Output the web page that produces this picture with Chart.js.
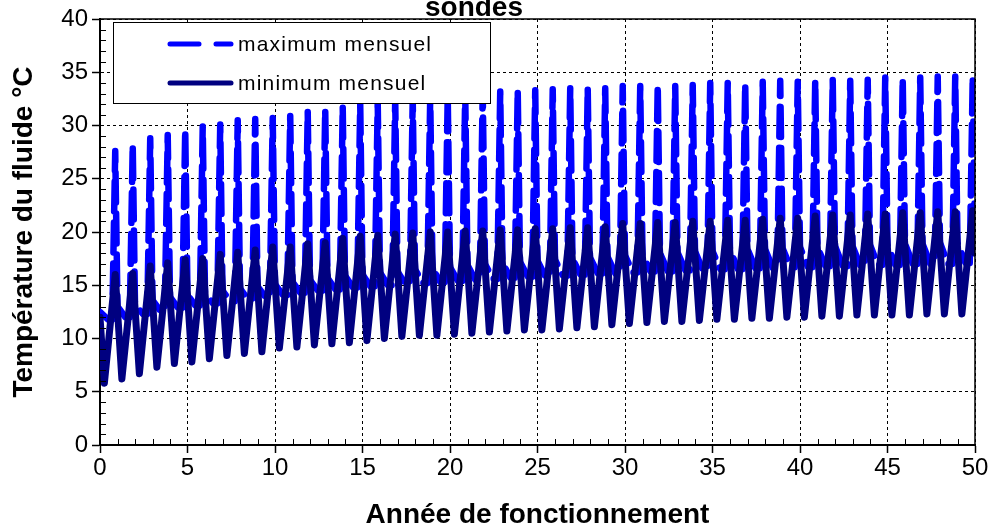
<!DOCTYPE html>
<html>
<head>
<meta charset="utf-8">
<script src="https://cdn.jsdelivr.net/npm/chart.js@4.4.1/dist/chart.umd.min.js"></script>
<style>
  html, body { margin: 0; padding: 0; background: #fff; }
</style>
</head>
<body>
<canvas id="chart" width="999" height="526"></canvas>
<script>
// Fluid temperature in the boreholes, monthly max / min over 50 years of operation

// Readings taken off the plot, one value per year of operation (year k = index k)
const maxPeak = [27.6, 28.2, 28.8, 29.1, 29.6, 29.9, 30.1, 30.5, 30.6, 30.7,
                 30.9, 31.3, 31.5, 31.8, 32.0, 32.2, 32.4, 32.5, 32.7, 32.8,
                 33.0, 33.1, 33.2, 33.3, 33.3, 33.4, 33.5, 33.5, 33.5, 33.7,
                 33.7, 33.8, 33.7, 33.8, 34.0, 34.0, 33.9, 34.1, 34.2, 34.1,
                 34.2, 34.3, 34.2, 34.3, 34.5, 34.4, 34.5, 34.6, 34.6, 34.6];
const maxBase = [11.8, 12.0, 12.3, 12.6, 12.9, 13.1, 13.3, 13.5, 13.7, 13.9,
                 14.1, 14.3, 14.5, 14.6, 14.8, 14.9, 15.0, 15.1, 15.2, 15.3,
                 15.4, 15.5, 15.6, 15.7, 15.8, 15.8, 15.9, 16.0, 16.1, 16.1,
                 16.2, 16.3, 16.3, 16.4, 16.4, 16.5, 16.5, 16.6, 16.6, 16.7,
                 16.7, 16.8, 16.8, 16.8, 16.9, 16.9, 17.0, 17.0, 17.0, 17.1];
const maxAfter = [13.0, 13.2, 13.6, 13.9, 14.1, 14.3, 14.5, 14.7, 14.9, 15.1,
                  15.3, 15.5, 15.7, 15.9, 16.0, 16.2, 16.3, 16.5, 16.6, 16.7,
                  16.9, 17.0, 17.1, 17.2, 17.3, 17.4, 17.5, 17.6, 17.7, 17.8,
                  17.9, 18.0, 18.1, 18.2, 18.2, 18.3, 18.4, 18.4, 18.5, 18.6,
                  18.6, 18.7, 18.7, 18.8, 18.8, 18.9, 18.9, 19.0, 19.0, 19.0];
const minPeak = [16.0, 16.1, 16.8, 17.1, 17.4, 17.5, 17.9, 18.1, 18.3, 18.6,
                 18.6, 18.9, 19.0, 19.4, 19.6, 19.7, 19.8, 19.9, 20.0, 20.0,
                 20.1, 20.1, 20.2, 20.2, 20.3, 20.3, 20.4, 20.4, 20.5, 20.8,
                 20.8, 20.9, 20.9, 21.0, 21.0, 21.1, 21.1, 21.2, 21.3, 21.3,
                 21.5, 21.6, 21.6, 21.7, 21.7, 21.8, 21.8, 21.9, 21.9, 22.0];
const minTrough = [5.8, 6.2, 6.7, 7.3, 7.65, 7.8, 8.1, 8.4, 8.6, 8.75,
                   9.1, 9.2, 9.4, 9.5, 9.6, 9.8, 10.0, 10.2, 10.3, 10.3,
                   10.4, 10.5, 10.6, 10.7, 10.8, 10.8, 10.9, 11.0, 11.1, 11.3,
                   11.4, 11.5, 11.6, 11.6, 11.7, 11.8, 11.8, 11.9, 11.9, 12.0,
                   12.0, 12.1, 12.1, 12.2, 12.2, 12.2, 12.2, 12.3, 12.3, 12.3];
// values at year 0, and the min value at year 50
const maxStart = 12.5;
const minEnds = [12.0, 18.0];
// where in the year each reading sits (fraction of a year)
const phase = { minLow: 0.25, maxLow: 0.45, maxRise: 0.70, peak: 0.87, maxAfter: 1.0 };

const xTicks = [0, 5, 10, 15, 20, 25, 30, 35, 40, 45, 50];
const yTicks = [0, 5, 10, 15, 20, 25, 30, 35, 40];

const FONT = "'Liberation Sans', Arial, Helvetica, sans-serif";
Chart.defaults.font.family = FONT;
Chart.defaults.color = '#000';

function buildMax() {
    const pts = [{ x: 0, y: maxStart }];
    for (let k = 0; k < maxPeak.length; k++) {
        pts.push({ x: k + phase.maxLow, y: maxBase[k] });
        pts.push({ x: k + phase.maxRise, y: maxBase[k] });
        pts.push({ x: k + phase.peak, y: maxPeak[k] });
        pts.push({ x: k + phase.maxAfter, y: maxAfter[k] });
    }
    return pts;
}

function buildMin() {
    const pts = [{ x: 0, y: minEnds[0] }];
    for (let k = 0; k < minPeak.length; k++) {
        pts.push({ x: k + phase.minLow, y: minTrough[k] });
        pts.push({ x: k + phase.peak, y: minPeak[k] });
    }
    pts.push({ x: xTicks[xTicks.length - 1], y: minEnds[1] });
    return pts;
}

// frame, minor ticks, clipped title and boxed legend
const extras = {
    id: 'extras',
    afterDraw(chart) {
        const { ctx, chartArea: a, scales: { x, y } } = chart;
        ctx.save();
        ctx.strokeStyle = '#000';

        // top and right frame
        ctx.lineWidth = 1.5;
        ctx.beginPath();
        ctx.moveTo(a.left, a.top);
        ctx.lineTo(a.right, a.top);
        ctx.lineTo(a.right, a.bottom);
        ctx.stroke();

        // minor ticks, inside
        ctx.lineWidth = 1;
        ctx.beginPath();
        for (let v = 1; v < 50; v++) {
            if (v % 5 === 0) continue;
            const px = Math.round(x.getPixelForValue(v)) + 0.5;
            ctx.moveTo(px, a.bottom);
            ctx.lineTo(px, a.bottom - 6);
        }
        for (let v = 1; v < 40; v++) {
            if (v % 5 === 0) continue;
            const py = Math.round(y.getPixelForValue(v)) + 0.5;
            ctx.moveTo(a.left, py);
            ctx.lineTo(a.left + 6, py);
        }
        ctx.stroke();

        // chart title, only its last line shows at the top edge
        ctx.fillStyle = '#000';
        ctx.font = 'bold 28px ' + FONT;
        ctx.textAlign = 'center';
        ctx.textBaseline = 'alphabetic';
        ctx.fillText('sondes', a.left + 374, a.top - 3);

        // legend box
        const lx = a.left + 13, ly = a.top + 3, lw = 377, lh = 81;
        ctx.fillStyle = '#fff';
        ctx.fillRect(lx, ly, lw, lh);
        ctx.lineWidth = 1;
        ctx.strokeRect(lx + 0.5, ly + 0.5, lw, lh);

        const rows = [chart.data.datasets[0], chart.data.datasets[1]];
        ctx.font = '21px ' + FONT;
        ctx.textAlign = 'left';
        ctx.textBaseline = 'middle';
        rows.forEach((ds, i) => {
            const ry = ly + 22 + i * 39;
            ctx.save();
            ctx.strokeStyle = ds.borderColor;
            ctx.lineWidth = 5;
            ctx.lineCap = 'round';
            ctx.setLineDash(ds.borderDash ? [29, 17] : []);
            ctx.beginPath();
            ctx.moveTo(lx + 57, ry);
            ctx.lineTo(lx + 118, ry);
            ctx.stroke();
            ctx.restore();
            ctx.fillStyle = '#000';
            ctx.letterSpacing = '1.2px';
            ctx.fillText(ds.label, lx + 125, ry + 1);
            ctx.letterSpacing = '0px';
        });
        ctx.restore();
    }
};

const ctx = document.getElementById('chart');
new Chart(ctx, {
    type: 'line',
    data: {
        datasets: [
            {
                label: 'maximum mensuel',
                data: buildMax(),
                borderColor: '#0000ff',
                borderWidth: 6.5,
                borderDash: [30, 11],
                borderCapStyle: 'round',
                borderJoinStyle: 'round',
                pointRadius: 0,
                tension: 0,
                order: 1
            },
            {
                label: 'minimum mensuel',
                data: buildMin(),
                borderColor: '#000080',
                borderWidth: 7,
                borderCapStyle: 'round',
                borderJoinStyle: 'round',
                pointRadius: 0,
                tension: 0,
                order: 0
            }
        ]
    },
    options: {
        responsive: false,
        animation: false,
        devicePixelRatio: 1,
        layout: { padding: { top: 19, right: 24, bottom: 0, left: 0 } },
        plugins: {
            legend: { display: false },
            tooltip: { enabled: false },
            title: { display: false }
        },
        scales: {
            x: {
                type: 'linear',
                min: 0,
                max: 50,
                afterFit: (s) => { s.height = 81; },
                afterBuildTicks: (s) => { s.ticks = xTicks.map(v => ({ value: v })); },
                ticks: { font: { size: 24 }, color: '#000', padding: 1, maxRotation: 0 },
                grid: { color: '#000', lineWidth: 1, tickLength: 8, tickColor: '#000', tickWidth: 1.5 },
                border: { color: '#000', width: 2, dash: [3, 3] },
                title: {
                    display: true,
                    text: 'Année de fonctionnement',
                    font: { size: 28, weight: 'bold' },
                    color: '#000',
                    padding: { top: 0, bottom: -6 }
                }
            },
            y: {
                min: 0,
                max: 40,
                afterFit: (s) => { s.width = 100; },
                afterBuildTicks: (s) => { s.ticks = yTicks.map(v => ({ value: v })); },
                ticks: { font: { size: 24 }, color: '#000', padding: 4 },
                grid: { color: '#000', lineWidth: 1, tickLength: 8, tickColor: '#000', tickWidth: 1.5 },
                border: { color: '#000', width: 2, dash: [3, 3] },
                title: {
                    display: true,
                    text: 'Température du fluide °C',
                    font: { size: 28, weight: 'bold' },
                    color: '#000',
                    padding: { top: 7, bottom: 0 }
                }
            }
        }
    },
    plugins: [extras]
});
</script>
</body>
</html>
